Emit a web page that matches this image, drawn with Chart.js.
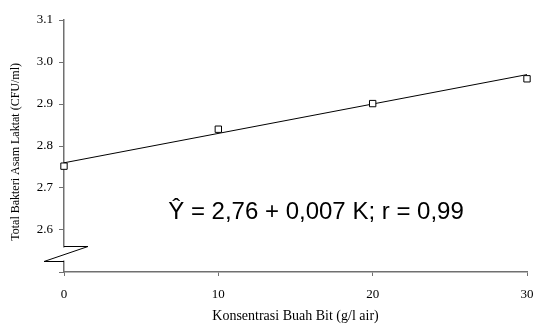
<!DOCTYPE html>
<html>
<head>
<meta charset="utf-8">
<script src="https://cdn.jsdelivr.net/npm/chart.js@4/dist/chart.umd.min.js"></script>
<style>
html,body{margin:0;padding:0;background:#fff;}
#wrap{width:534px;height:325px;position:relative;}
</style>
</head>
<body>
<div id="wrap"><canvas id="c" width="534" height="325"></canvas></div>
<script>
const concentrations = [0, 10, 20, 30];
const bacteriaTotals = [2.752, 2.840, 2.901, 2.960];
const regressionX = [0, 30];
const regressionY = [2.76, 2.97];
const yTickLabels = ['2.6', '2.7', '2.8', '2.9', '3.0', '3.1'];
const xTickLabels = ['0', '10', '20', '30'];
const equationText = 'Ŷ = 2,76 + 0,007 K; r = 0,99';
const xTitle = 'Konsentrasi Buah Bit (g/l air)';
const yTitle = 'Total Bakteri Asam Laktat (CFU/ml)';

const serif = "'Liberation Serif', 'Times New Roman', serif";
const axisColor = '#707070';

const breakPlugin = {
  id: 'axisBreak',
  afterDraw(chart) {
    const ctx = chart.ctx;
    const y = chart.scales.y;
    const ax = chart.chartArea.left;
    const yTop = Math.round(y.getPixelForValue(2.562)) + 0.5;
    const yBot = Math.round(y.getPixelForValue(2.527)) + 0.5;
    ctx.save();
    ctx.fillStyle = '#fff';
    ctx.fillRect(ax - 3, yTop + 1, 6, yBot - yTop - 2);
    ctx.strokeStyle = '#000';
    ctx.lineWidth = 1;
    ctx.beginPath();
    ctx.moveTo(ax, yTop);
    ctx.lineTo(ax + 24, yTop);
    ctx.lineTo(ax - 20, yBot);
    ctx.lineTo(ax, yBot);
    ctx.stroke();
    // y-axis title
    ctx.fillStyle = '#000';
    ctx.font = "12px " + serif;
    ctx.textAlign = 'center';
    ctx.textBaseline = 'middle';
    ctx.save();
    ctx.translate(16, y.getPixelForValue(2.786));
    ctx.rotate(-Math.PI / 2);
    ctx.fillText(yTitle, 0, 0);
    ctx.restore();
    // equation text
    ctx.font = "24px 'Liberation Sans', Arial, sans-serif";
    ctx.textAlign = 'center';
    ctx.textBaseline = 'alphabetic';
    ctx.fillText(equationText, 316, y.getPixelForValue(2.626));
    ctx.restore();
  }
};

new Chart(document.getElementById('c'), {
  type: 'scatter',
  data: {
    datasets: [
      {
        label: 'Data',
        data: concentrations.map((k, i) => ({x: k, y: bacteriaTotals[i]})),
        pointStyle: 'rect',
        pointRadius: 4.5,
        pointBackgroundColor: '#fff',
        pointBorderColor: '#000',
        pointBorderWidth: 1,
        showLine: false,
        clip: false,
        order: 1
      },
      {
        label: 'Regresi',
        data: regressionX.map((k, i) => ({x: k, y: regressionY[i]})),
        showLine: true,
        borderColor: '#000',
        borderWidth: 1,
        pointRadius: 0,
        fill: false,
        clip: false,
        order: 2
      }
    ]
  },
  options: {
    responsive: false,
    animation: false,
    events: [],
    layout: {padding: {top: 20, right: 7, left: 0, bottom: 0}},
    plugins: {legend: {display: false}, tooltip: {enabled: false}},
    scales: {
      x: {
        type: 'linear',
        min: 0, max: 30,
        border: {display: true, color: axisColor, width: 1.5},
        grid: {display: true, drawOnChartArea: false, drawTicks: true, tickLength: 4, color: axisColor, lineWidth: 1},
        ticks: {
          stepSize: 10, padding: 11, color: '#000',
          font: {family: serif, size: 13},
          callback: (v) => { const i = concentrations.indexOf(v); return i >= 0 ? xTickLabels[i] : null; },
          maxRotation: 0
        },
        title: {display: true, text: xTitle, color: '#000', font: {family: serif, size: 14}, padding: {top: 6, bottom: 0}},
        afterFit(s) { s.height = 53; s.paddingRight = 0; s.paddingLeft = 0; }
      },
      y: {
        type: 'linear',
        min: 2.5, max: 3.1,
        border: {display: true, color: axisColor, width: 1.5},
        grid: {display: true, drawOnChartArea: false, drawTicks: true, tickLength: 5, color: axisColor, lineWidth: 1},
        ticks: {
          stepSize: 0.1, padding: 6, color: '#000',
          font: {family: serif, size: 13},
          callback: (v) => { const i = Math.round((v - 2.6) * 10); return (i >= 0 && i < yTickLabels.length) ? yTickLabels[i] : ''; }
        },
        title: {display: false},
        afterFit(s) { s.width = 64; s.paddingTop = 0; s.paddingBottom = 0; }
      }
    }
  },
  plugins: [breakPlugin]
});
</script>
</body>
</html>
